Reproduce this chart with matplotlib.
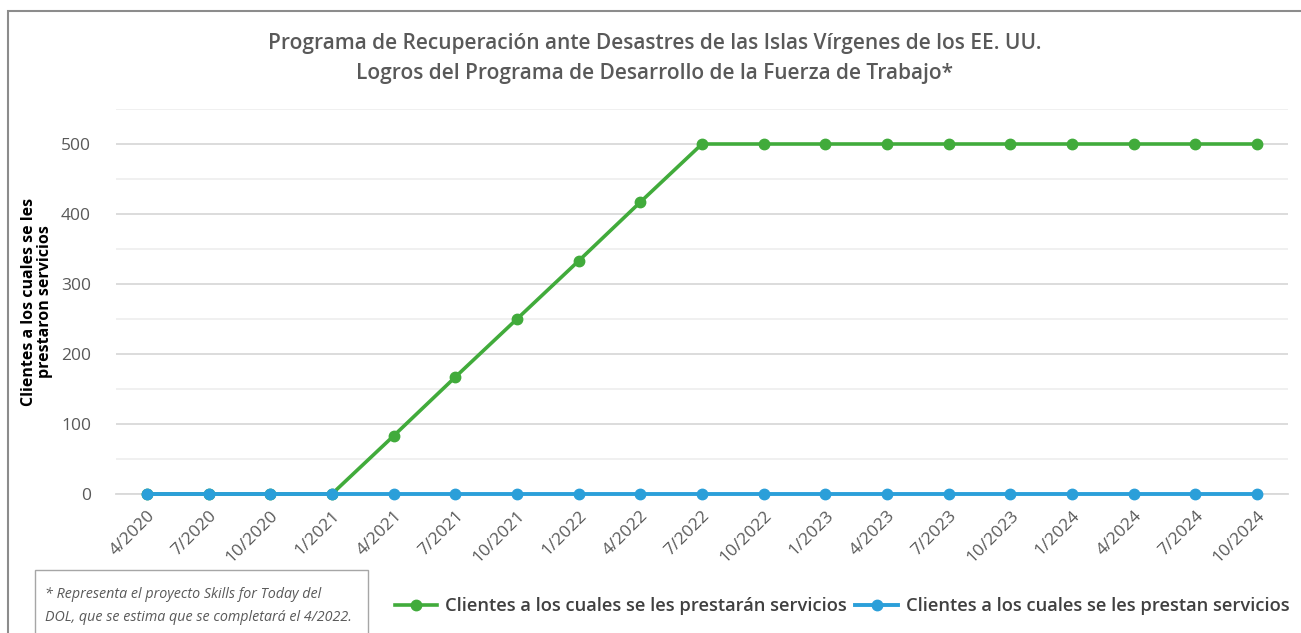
import matplotlib
matplotlib.use("Agg")
import matplotlib.pyplot as plt
from matplotlib.patches import Rectangle
from matplotlib.ticker import MultipleLocator

plt.rcParams['font.family'] = ['Open Sans', 'DejaVu Sans']

quarters = ["4/2020", "7/2020", "10/2020", "1/2021", "4/2021", "7/2021", "10/2021",
            "1/2022", "4/2022", "7/2022", "10/2022", "1/2023", "4/2023", "7/2023",
            "10/2023", "1/2024", "4/2024", "7/2024", "10/2024"]
planned = [0, 0, 0, 0, 83, 167, 250, 333, 417, 500, 500, 500, 500, 500, 500, 500, 500, 500, 500]
served = [0] * 19

title_lines = ["Programa de Recuperación ante Desastres de las Islas Vírgenes de los EE. UU.",
               "Logros del Programa de Desarrollo de la Fuerza de Trabajo*"]
y_label = "Clientes a los cuales se les\nprestaron servicios"
series_names = ["Clientes a los cuales se les prestarán servicios",
                "Clientes a los cuales se les prestan servicios"]
footnote = "* Representa el proyecto Skills for Today del\nDOL, que se estima que se completará el 4/2022."

W, H = 1301, 633
fig = plt.figure(figsize=(W / 100, H / 100), dpi=100)

# outer frame
fig.patches.append(Rectangle((8 / W, -0.1), 1.2, (H - 11) / H + 0.1, transform=fig.transFigure,
                             fill=False, edgecolor="#8c8c8c", linewidth=1.5))

ax = fig.add_axes([116 / W, (H - 494) / H, (1288 - 116) / W, (494 - 109) / H])
x = list(range(len(quarters)))
green = "#41ab3b"
blue = "#2b9fd9"
ax.plot(x, planned, color=green, lw=2.6, marker="o", ms=7.5, label=series_names[0],
        zorder=3, clip_on=False)
ax.plot(x, served, color=blue, lw=2.8, marker="o", ms=7.5, label=series_names[1],
        zorder=4, clip_on=False)

ax.set_xlim(-0.5, len(quarters) - 0.5)
ax.set_ylim(0, 550)
ax.yaxis.set_major_locator(MultipleLocator(100))
ax.yaxis.set_minor_locator(MultipleLocator(50))
ax.grid(True, which="major", axis="y", color="#d9d9d9", lw=1.3)
ax.grid(True, which="minor", axis="y", color="#efefef", lw=1.3)
ax.set_axisbelow(True)
for s in ["top", "right", "left"]:
    ax.spines[s].set_visible(False)
ax.spines["bottom"].set_color("#d9d9d9")
ax.spines["bottom"].set_linewidth(1.3)
ax.spines["bottom"].set_zorder(1)
ax.tick_params(axis="both", which="both", length=0)
ax.set_xticks(x)
ax.set_xticklabels(quarters, rotation=45, ha="right", rotation_mode="anchor",
                   fontsize=12.5, color="#595959")
ax.tick_params(axis="x", pad=10)
ax.tick_params(axis="y", labelsize=12.5, labelcolor="#595959", pad=18)

fig.text(37 / W, 1 - 302 / H, y_label, rotation=90, ha="center", va="center",
         fontsize=11.5, fontweight="bold", color="black", linespacing=1.0)

fig.text(655 / W, 1 - 44 / H, title_lines[0], ha="center", va="center",
         fontsize=15, fontweight="semibold", color="#595959")
fig.text(655 / W, 1 - 73 / H, title_lines[1], ha="center", va="center",
         fontsize=15, fontweight="semibold", color="#595959")

fig.legend(loc="center left", bbox_to_anchor=(395 / W, 1 - 606 / H), ncol=2, frameon=False,
           borderpad=0, borderaxespad=0,
           prop={"size": 13.2, "weight": "semibold"}, handlelength=2.3, columnspacing=0.45,
           handletextpad=0.45, labelcolor="#404040")

fig.patches.append(Rectangle((35 / W, -0.1), (368 - 35) / W, (H - 570) / H + 0.1,
                             transform=fig.transFigure, fill=False,
                             edgecolor="#a6a6a6", linewidth=1.0))
fig.text(45 / W, 1 - 606 / H, footnote, ha="left", va="center", fontsize=10.3,
         style="italic", color="#595959", linespacing=1.65)

fig.savefig("out.png", dpi=100)
